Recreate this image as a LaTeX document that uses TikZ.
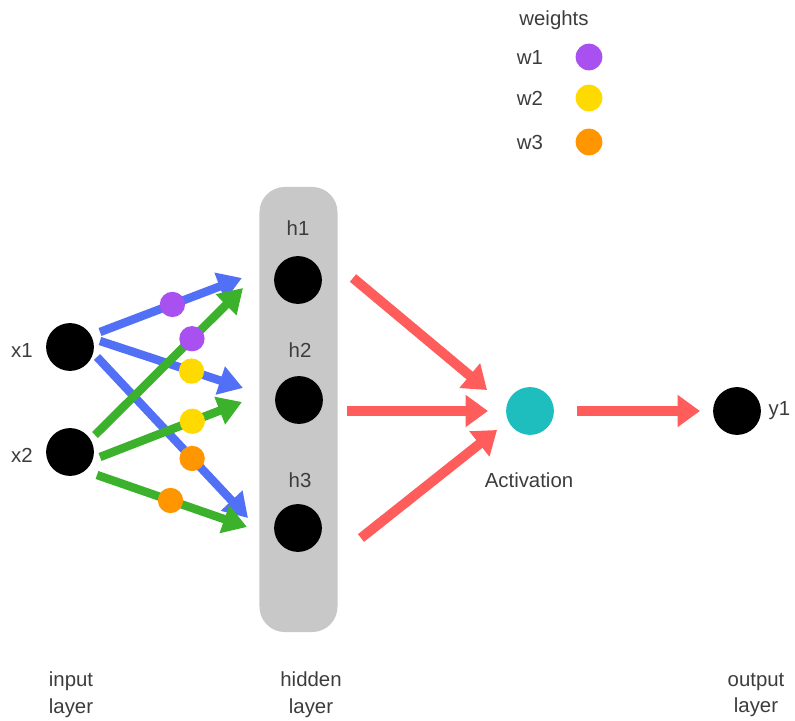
\documentclass[tikz,border=0pt]{standalone}
\usepackage{fontspec}
\setmainfont{Liberation Sans}
\usetikzlibrary{arrows.meta}

\definecolor{wblue}{RGB}{82,112,245}
\definecolor{wgreen}{RGB}{60,178,44}
\definecolor{wred}{RGB}{255,92,92}
\definecolor{wpurple}{RGB}{168,80,240}
\definecolor{wyellow}{RGB}{255,218,0}
\definecolor{worange}{RGB}{255,150,0}
\definecolor{wteal}{RGB}{30,190,190}
\definecolor{boxgray}{RGB}{200,200,200}
\definecolor{txtgray}{RGB}{60,60,60}

\begin{document}
\begin{tikzpicture}[x=0.025cm,y=-0.025cm,
  neuron/.style={circle,fill=black,minimum size=34pt,inner sep=0pt},
  wdot/.style={circle,minimum size=18pt,inner sep=0pt},
  lbl/.style={text=txtgray,font=\fontsize{14.5}{19}\selectfont,align=center},
  inarrow/.style={line width=6pt,-{Triangle[length=17pt,width=20pt]}},
  outarrow/.style={line width=7pt,wred,-{Triangle[length=16pt,width=22pt]}}]
\useasboundingbox (0,0) rectangle (795,721);

% hidden layer box
\node[fill=boxgray,rounded corners=18pt,minimum width=55.5pt,minimum height=316.5pt] (hbox) at (298.5,409.5) {};

% neurons
\node[neuron] (x1) at (70,347) {};
\node[neuron] (x2) at (70,452) {};
\node[neuron] (h1) at (298,280) {};
\node[neuron] (h2) at (299,400) {};
\node[neuron] (h3) at (298,528) {};
\node[neuron,fill=wteal] (act) at (530,411) {};
\node[neuron] (y1) at (737,411) {};

% neuron labels
\node[lbl] (x1l) at (22,350) {x1};
\node[lbl] (x2l) at (22,455) {x2};
\node[lbl] (h1l) at (298,228) {h1};
\node[lbl] (h2l) at (300,350) {h2};
\node[lbl] (h3l) at (300,480) {h3};
\node[lbl] (actl) at (529,480) {Activation};
\node[lbl,anchor=west,inner sep=1pt] (y1l) at (767,411) {y1};

% input to hidden, blue from x1
\draw[inarrow,wblue] ([shift={(30,-15)}]x1.center) -- ([shift={(-56,-2)}]h1.center)
  node[wdot,fill=wpurple,pos=0.51] (d11) {};
\draw[inarrow,wblue] ([shift={(30,-6)}]x1.center) -- ([shift={(-56,-12)}]h2.center)
  node[wdot,fill=wyellow,pos=0.64] (d12) {};
\draw[inarrow,wblue] ([shift={(27,10)}]x1.center) -- ([shift={(-50,-10)}]h3.center)
  node[wdot,fill=worange,pos=0.63] (d13) {};

% input to hidden, green from x2
\draw[inarrow,wgreen] ([shift={(25,-17)}]x2.center) -- ([shift={(-55,8)}]h1.center)
  node[wdot,fill=wpurple,pos=0.655] (d21) {};
\draw[inarrow,wgreen] ([shift={(30,5)}]x2.center) -- ([shift={(-57,2)}]h2.center)
  node[wdot,fill=wyellow,pos=0.65] (d22) {};
\draw[inarrow,wgreen] ([shift={(27,23)}]x2.center) -- ([shift={(-51,-1)}]h3.center)
  node[wdot,fill=worange,pos=0.49] (d23) {};

% hidden to activation to output
\draw[outarrow] ([shift={(55,-2)}]h1.center) -- ([shift={(-43,-21)}]act.center);
\draw[outarrow] ([shift={(48,11)}]h2.center) -- ([shift={(-42,0)}]act.center);
\draw[outarrow] ([shift={(63,10)}]h3.center) -- ([shift={(-33,19)}]act.center);
\draw[outarrow] ([shift={(47,0)}]act.center) -- ([shift={(-37,0)}]y1.center);

% legend
\node[lbl] (wtitle) at (554,20) {weights};
\node[lbl] (w1l) at (530,57) {w1};
\node[lbl] (w2l) at (530,98) {w2};
\node[lbl] (w3l) at (530,142) {w3};
\node[wdot,minimum size=19pt,fill=wpurple] (w1d) at (589,57) {};
\node[wdot,minimum size=19pt,fill=wyellow] (w2d) at (589,98) {};
\node[wdot,minimum size=19pt,fill=worange] (w3d) at (589,142) {};

% layer names
\node[lbl] (inl) at (71,695) {input\\layer};
\node[lbl] (hidl) at (311,695) {hidden\\layer};
\node[lbl] (outl) at (756,695) {output\\layer};

\end{tikzpicture}
\end{document}
